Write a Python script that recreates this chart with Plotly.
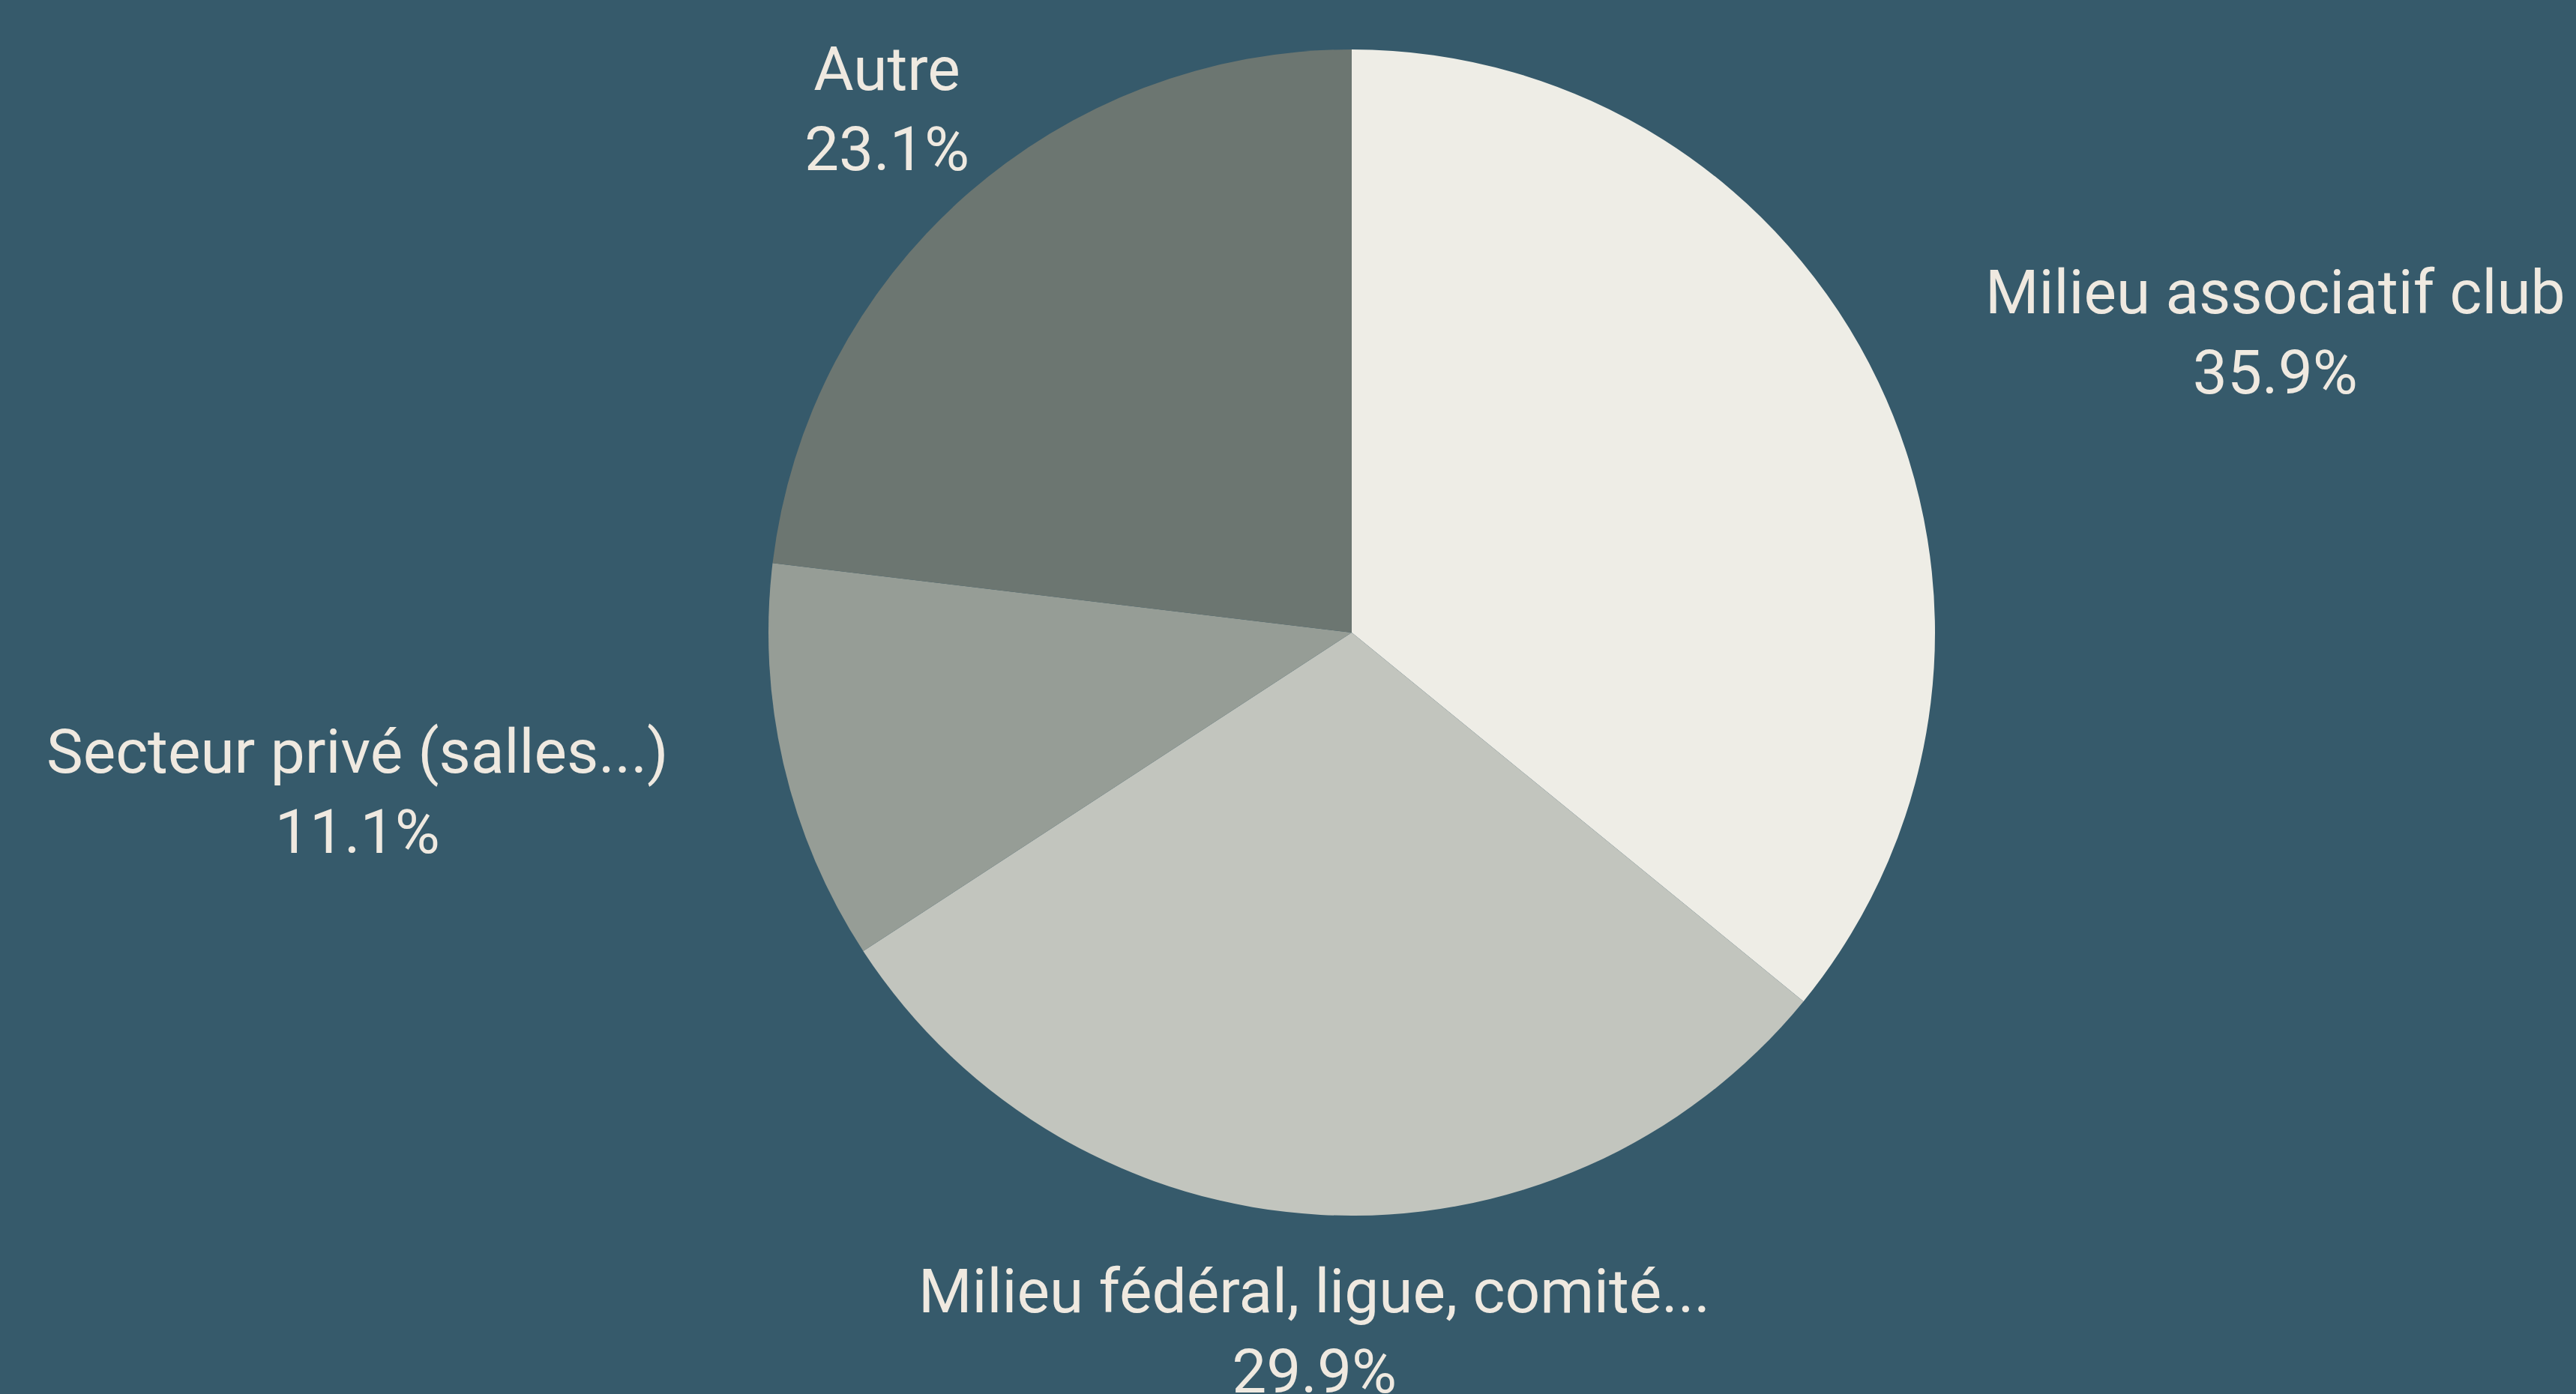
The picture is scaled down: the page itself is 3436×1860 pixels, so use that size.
import math
import plotly.graph_objects as go

labels = ["Milieu associatif club", "Milieu fédéral, ligue, comité...", "Secteur privé (salles...)", "Autre"]
values = [35.9, 29.9, 11.1, 23.1]
colors = ["#eeede6", "#c2c5be", "#969d96", "#6c7671"]

W, H = 3436, 1860
BG = "#365a6b"
TXT = "#efe9e0"
FONT = "Roboto"
FS = 82

cx, cy, R = 1803, 844, 778  # pie centre / radius in px
dom_x = [(cx - R) / W, (cx + R) / W]
dom_y = [(H - cy - R) / H, (H - cy + R) / H]

fig = go.Figure(go.Pie(
    labels=labels, values=values, sort=False, direction="clockwise", rotation=0,
    marker=dict(colors=colors, line=dict(width=0)),
    textinfo="none", hoverinfo="label+percent", showlegend=False,
    domain=dict(x=dom_x, y=dom_y),
))

total = sum(values)
cum = 0.0
annotations = []
for lab, v in zip(labels, values):
    mid = (cum + v / 2) / total * 2 * math.pi
    cum += v
    dx, dy = math.sin(mid), -math.cos(mid)
    px = cx + 1.2 * R * dx
    py = cy + 1.2 * R * dy
    if abs(dx) > abs(dy):
        xa = "left" if dx > 0 else "right"
    else:
        xa = "center"
    annotations.append(dict(
        x=px / W, y=1 - py / H, xref="paper", yref="paper",
        xanchor=xa, yanchor="middle", align="center", showarrow=False,
        text=f"{lab}<br>{v:.1f}%",
        font=dict(family=FONT, size=FS, color=TXT),
    ))

fig.update_layout(
    width=W, height=H, margin=dict(l=0, r=0, t=0, b=0),
    paper_bgcolor=BG, plot_bgcolor=BG,
    annotations=annotations,
)

fig.write_html(
    "out.html",
    config={"displayModeBar": False},
    post_script="document.body.style.margin='0';document.body.style.background='" + BG + "';",
)
